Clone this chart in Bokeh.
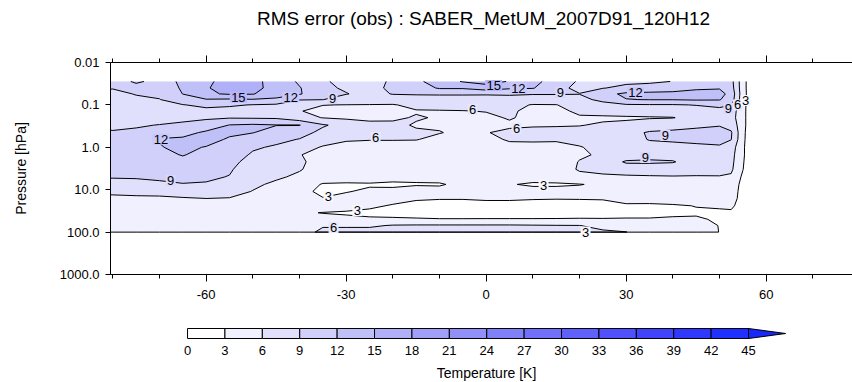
import numpy as np
from bokeh.plotting import figure
from bokeh.models import Range1d, FixedTicker, LinearAxis, ColumnDataSource
from bokeh.layouts import column
from bokeh.embed import file_html
from bokeh.resources import INLINE
from bokeh.core.properties import value

TITLE = "RMS error (obs) : SABER_MetUM_2007D91_120H12"
FONT = "Liberation Sans"

# latitude grid (deg) and pressure levels (hPa)
lat = [-85, -80, -75, -70, -65, -60, -55, -50, -45, -40, -35, -30, -25, -20, -15, -10,
       -5, 0, 5, 10, 15, 20, 25, 30, 35, 40, 45, 50, 52.5, 55, 57.5]
pres = [0.028, 0.04, 0.055, 0.075, 0.1, 0.14, 0.2, 0.3, 0.45, 0.65, 1.0, 1.5, 2.2, 3.3,
        5.0, 7.5, 11.0, 16.0, 24.0, 35.0, 50.0, 70.0, 100.0, 100.5]

# RMS error (K), one row per pressure level, one value per latitude
rms = [
    [10.3, 10.0, 12.6, 10.8, 12.5, 14.5, 16.0, 15.5, 14.3, 11.5, 9.3, 8.3, 8.5, 9.2, 11.3, 13.5, 15.2, 16.2, 14.8, 13.0, 10.5, 8.7, 8.5, 8.5, 8.6, 9.05, 10.5, 10.5, 10.0, 4.2, 0],
    [9.5, 9.2, 10.5, 10.5, 12.3, 14.8, 16.0, 15.8, 14.0, 12.2, 9.5, 8.7, 8.4, 9.4, 10.5, 12.3, 12.3, 13.5, 12.4, 12.2, 9.6, 8.5, 8.9, 9.6, 10.0, 10.5, 11.5, 11.8, 10.3, 4.2, 0],
    [8.3, 8.0, 9.2, 9.6, 12.05, 14.6, 15.3, 15.2, 13.0, 12.3, 9.6, 9.1, 8.3, 9.1, 9.2, 9.2, 9.2, 9.2, 9.3, 9.1, 9.1, 9.05, 11.0, 12.6, 12.8, 12.9, 13.2, 13.0, 11.0, 4.3, 0],
    [7.6, 7.5, 8.3, 8.9, 10.8, 11.8, 11.6, 11.8, 11.6, 9.1, 9.05, 7.8, 7.5, 7.8, 8.0, 8.2, 8.2, 8.1, 8.1, 8.2, 8.2, 8.3, 9.6, 11.9, 12.1, 12.1, 12.3, 12.2, 10.5, 4.2, 0],
    [7.0, 7.0, 7.5, 8.0, 8.9, 9.6, 9.3, 8.9, 8.6, 7.8, 6.05, 5.95, 5.9, 5.8, 6.8, 7.2, 7.2, 7.2, 7.0, 5.8, 5.9, 7.5, 8.2, 8.7, 8.8, 8.8, 9.1, 9.6, 9.1, 4.1, 0],
    [7.0, 7.0, 7.0, 7.5, 7.8, 8.3, 8.2, 8.0, 7.6, 6.1, 5.4, 5.0, 4.8, 5.2, 5.8, 5.8, 5.9, 6.1, 6.4, 5.3, 5.3, 6.5, 7.0, 7.2, 7.3, 7.5, 7.8, 8.2, 7.5, 4.0, 0],
    [7.6, 7.5, 7.3, 7.8, 8.3, 8.6, 8.8, 8.7, 8.6, 7.0, 5.9, 5.5, 5.3, 5.6, 6.2, 5.8, 5.3, 5.5, 6.2, 5.4, 5.6, 5.7, 5.6, 5.7, 5.8, 5.9, 6.9, 8.0, 7.2, 4.0, 0],
    [8.8, 8.5, 8.7, 9.1, 9.5, 10.2, 12.1, 12.4, 12.1, 12.1, 9.3, 8.0, 6.8, 6.5, 5.8, 5.7, 5.3, 5.3, 5.6, 5.8, 5.8, 5.9, 6.3, 6.5, 7.3, 7.8, 8.3, 8.8, 8.0, 4.0, 0],
    [9.6, 9.2, 9.5, 10.5, 11.0, 12.5, 12.8, 12.1, 10.5, 10.0, 8.3, 7.5, 6.8, 6.5, 6.3, 6.1, 5.5, 5.9, 6.5, 6.6, 6.8, 6.8, 7.2, 8.0, 9.3, 9.6, 10.0, 10.2, 9.3, 3.8, 0],
    [10.7, 10.5, 11.0, 12.2, 12.5, 13.5, 11.5, 10.3, 9.6, 8.9, 7.0, 6.2, 6.1, 6.1, 6.1, 5.4, 5.2, 5.5, 6.2, 6.3, 6.2, 6.5, 7.0, 7.5, 9.2, 9.5, 9.8, 10.0, 9.1, 3.7, 0],
    [11.0, 11.0, 11.2, 11.8, 12.8, 11.8, 10.8, 9.3, 8.7, 7.0, 5.8, 5.4, 5.3, 5.3, 5.0, 4.8, 4.8, 5.0, 5.5, 5.4, 5.5, 5.9, 6.5, 7.2, 7.8, 8.0, 8.3, 8.6, 7.5, 3.5, 0],
    [11.0, 11.0, 11.0, 11.0, 12.2, 10.8, 10.2, 8.7, 8.0, 6.1, 5.2, 5.0, 4.9, 4.9, 4.8, 4.6, 4.5, 4.6, 4.8, 4.9, 5.2, 5.7, 6.3, 7.0, 8.0, 7.9, 7.8, 7.9, 7.0, 3.5, 0],
    [10.5, 10.5, 10.5, 10.5, 11.0, 10.3, 9.8, 8.0, 7.5, 6.4, 5.0, 4.8, 4.7, 4.6, 4.5, 4.4, 4.3, 4.3, 4.4, 4.5, 4.8, 6.1, 6.8, 9.4, 9.4, 9.2, 7.6, 7.7, 6.8, 3.3, 0],
    [10.0, 10.0, 10.0, 10.0, 10.3, 9.8, 9.3, 7.5, 7.0, 6.2, 4.8, 4.6, 4.5, 4.4, 4.3, 4.2, 4.1, 4.0, 4.0, 4.2, 4.4, 6.3, 6.8, 7.3, 7.5, 7.5, 7.0, 7.2, 6.5, 3.1, 0],
    [9.2, 9.2, 9.3, 9.4, 9.6, 9.4, 8.9, 7.0, 6.4, 5.5, 4.3, 4.1, 4.0, 3.6, 3.3, 3.6, 3.6, 3.7, 3.5, 3.6, 3.8, 5.2, 5.5, 5.6, 5.7, 5.8, 5.8, 5.8, 5.6, 2.5, 0],
    [7.8, 8.0, 8.0, 8.6, 8.9, 8.8, 8.0, 6.5, 5.5, 4.5, 2.8, 2.7, 2.8, 2.7, 2.9, 2.85, 3.4, 3.5, 3.1, 2.8, 2.8, 2.9, 3.4, 4.3, 4.5, 4.6, 4.8, 4.8, 4.6, 2.2, 0],
    [6.3, 6.5, 6.8, 7.0, 7.3, 7.5, 7.0, 5.9, 5.0, 3.8, 2.4, 2.9, 3.3, 3.4, 3.5, 3.5, 3.6, 3.6, 3.6, 3.5, 3.5, 3.8, 4.0, 4.0, 4.3, 4.4, 4.5, 4.5, 4.4, 2.0, 0],
    [5.5, 5.5, 5.5, 5.5, 5.8, 6.02, 5.9, 5.3, 4.6, 3.6, 3.1, 3.5, 3.8, 3.8, 3.2, 3.1, 3.1, 3.2, 3.2, 3.1, 3.05, 3.05, 3.1, 3.5, 3.7, 3.9, 4.0, 4.0, 4.3, 1.8, 0],
    [5.0, 5.0, 5.0, 5.0, 5.0, 5.0, 5.0, 4.8, 4.3, 3.5, 3.8, 3.7, 3.4, 2.8, 2.5, 2.4, 2.4, 2.5, 2.5, 2.5, 2.6, 2.7, 2.6, 2.8, 2.7, 2.8, 3.05, 3.3, 3.6, 1.5, 0],
    [5.0, 5.0, 4.8, 5.0, 4.8, 4.8, 4.7, 4.6, 4.2, 3.2, 2.95, 2.8, 2.5, 2.3, 2.2, 2.1, 2.1, 2.2, 2.2, 2.2, 2.3, 2.5, 2.4, 2.6, 2.6, 2.7, 2.8, 2.6, 2.5, 1.2, 0],
    [5.0, 5.0, 4.8, 5.0, 4.7, 4.7, 4.6, 4.5, 4.3, 3.3, 3.5, 3.4, 3.3, 3.3, 3.2, 3.1, 3.1, 3.1, 3.1, 3.1, 3.1, 3.1, 3.1, 3.1, 3.1, 3.2, 3.2, 2.8, 2.0, 1.0, 0],
    [5.0, 5.0, 4.8, 5.0, 4.8, 4.8, 4.7, 4.6, 4.5, 4.5, 5.8, 5.8, 5.6, 6.2, 6.3, 6.3, 6.3, 6.3, 6.3, 6.2, 6.1, 6.05, 5.2, 4.8, 4.5, 4.4, 4.3, 2.9, 1.8, 1.0, 0],
    [5.0, 5.0, 5.0, 5.0, 5.0, 5.0, 5.0, 5.0, 5.0, 5.0, 6.5, 6.5, 7.0, 7.5, 7.5, 7.5, 7.5, 7.3, 7.2, 7.0, 6.8, 6.5, 6.4, 6.05, 4.6, 4.5, 4.3, 2.95, 1.8, 1.0, 0],
    [0] * 31,
]

# contour / colour-bar levels (K)
levels = [0, 3, 6, 9, 12, 15, 18, 21, 24, 27, 30, 33, 36, 39, 42, 45]

# colours of the 15 bands plus the ">45" triangle
palette = ["#ffffff", "#f0f0fe", "#e0e0fc", "#d0d0fa", "#c0c0f9", "#b0b0f8", "#a0a0f8",
           "#9090f8", "#8080f9", "#7070fa", "#6060fb", "#5050fc", "#4044fd", "#3038fe",
           "#2030ff", "#1828f8"]

# contour labels (level, latitude, pressure)
lab_text = ["15", "12", "9", "12", "9", "6", "15", "12", "9", "6", "6", "12", "9", "6", "3",
            "9", "9", "3", "3", "6", "3", "3"]
lab_lat = [-53.1, -41.9, -32.9, -69.7, -67.6, -23.7, 1.6, 6.9, 15.9, -2.9, 6.5, 32.0, 51.9,
           53.9, 55.6, 38.4, 34.1, -33.8, -27.6, -32.7, 12.3, 21.3]
lab_p = [0.066, 0.066, 0.071, 0.65, 6.1, 0.59, 0.035, 0.040, 0.051, 0.126, 0.36, 0.051, 0.12,
         0.10, 0.079, 0.53, 1.74, 14.5, 31.0, 78.0, 7.9, 100.0]

# x ticks
x_major = [-60, -30, 0, 30, 60]
x_minor = [-80, -70, -50, -40, -20, -10, 10, 20, 40, 50, 70]
# y ticks (log10 pressure) and labels
y_ticks = [-2, -1, 0, 1, 2, 3]
y_labels = ["0.01", "0.1", "1.0", "10.0", "100.0", "1000.0"]


def blend(c1, c2):
    a = [int(c1[i:i + 2], 16) for i in (1, 3, 5)]
    b = [int(c2[i:i + 2], 16) for i in (1, 3, 5)]
    return "#%02x%02x%02x" % tuple((u + v) // 2 for u, v in zip(a, b))


x = np.array(lat, dtype=float)
y = np.log10(np.array(pres, dtype=float))
z = np.array(rms, dtype=float)

# title strip (frame aligned with the plot frame, px 110..852; y in page pixels)
pt = figure(width=852, height=32, x_range=Range1d(110, 852), y_range=Range1d(32, 0),
            output_backend="svg", toolbar_location=None, min_border=0,
            min_border_left=110, x_axis_location=None, y_axis_location=None)
pt.outline_line_color = None
pt.grid.visible = False
pt.text(x=[483], y=[18], text=[TITLE], text_align="center", text_baseline="middle",
        text_font=value(FONT), text_font_size="19px", text_color="black")

p = figure(width=852, height=273, x_range=Range1d(-80.5, 78.5), y_range=Range1d(3, -2),
           output_backend="svg", toolbar_location=None,
           min_border_left=110, min_border_right=0, min_border_top=30, min_border_bottom=31)
p.outline_line_color = None
p.grid.visible = False
p.background_fill_color = "white"

p.contour(x, y, z, levels=levels, fill_color=palette[:15], line_color=None)
p.contour(x, y, z, levels=levels[1:], line_color="black", line_width=1.0)

# contour labels: a patch of the local fill colour breaks the line behind each label
bg = [blend(palette[int(t) // 3 - 1], palette[int(t) // 3]) for t in lab_text]
bw = [7 * len(t) + 3 for t in lab_text]
src = ColumnDataSource(dict(x=lab_lat, y=list(np.log10(lab_p)), t=lab_text, bg=bg, bw=bw))
p.rect(x="x", y="y", width="bw", height=11, width_units="screen", height_units="screen",
       source=src, fill_color="bg", line_color=None)
p.text(x="x", y="y", text="t", source=src, text_align="center", text_baseline="middle",
       text_font=value(FONT), text_font_size="13px", text_color="black")

# bottom axis
xb = p.below[0]
xb.ticker = FixedTicker(ticks=x_major, minor_ticks=x_minor)
xb.major_label_overrides = {v: str(v) for v in x_major}
xb.major_tick_out = 7
xb.major_tick_in = 0
xb.minor_tick_out = 4
xb.minor_tick_in = 0
xb.major_label_standoff = 8
xb.major_label_text_font = FONT
xb.major_label_text_font_size = "13px"
xb.major_label_text_color = "black"
xb.axis_line_color = "black"

# top axis (ticks only, no labels)
xt = LinearAxis(ticker=FixedTicker(ticks=x_major, minor_ticks=x_minor))
xt.major_label_overrides = {v: "" for v in x_major}
xt.major_tick_out = 7
xt.major_tick_in = 0
xt.minor_tick_out = 4
xt.minor_tick_in = 0
xt.major_label_standoff = 0
p.add_layout(xt, "above")

# left axis
yl = p.left[0]
yl.ticker = FixedTicker(ticks=y_ticks, minor_ticks=[])
yl.major_label_overrides = {t: s for t, s in zip(y_ticks, y_labels)}
yl.major_tick_out = 5
yl.major_tick_in = 0
yl.minor_tick_line_color = None
yl.major_label_standoff = 6
yl.major_label_text_font = FONT
yl.major_label_text_font_size = "13px"
yl.major_label_text_color = "black"
yl.axis_label = "Pressure [hPa]"
yl.axis_label_text_font = FONT
yl.axis_label_text_font_size = "14px"
yl.axis_label_text_font_style = "normal"
yl.axis_label_text_color = "black"
yl.axis_label_standoff = 28

# colour bar (its frame is aligned with the plot frame, px 110..852)
p2 = figure(width=852, height=77, x_range=Range1d(-6.18, 53.34), y_range=Range1d(382, 305),
            output_backend="svg", toolbar_location=None, min_border=0,
            min_border_left=110, x_axis_location=None, y_axis_location=None)
p2.outline_line_color = None
p2.grid.visible = False
p2.quad(left=levels[:-1], right=levels[1:], top=328, bottom=338,
        fill_color=palette[:15], line_color="black", line_width=1)
p2.patch([levels[-1], levels[-1] + 2.97, levels[-1]], [328, 333, 338],
         fill_color=palette[15], line_color="black", line_width=1)
p2.text(x=levels, y=[350] * len(levels), text=[str(v) for v in levels],
        text_align="center", text_baseline="middle", text_font=value(FONT),
        text_font_size="13px", text_color="black")
p2.text(x=[(levels[0] + levels[-1] + 2.97) / 2], y=[372], text=["Temperature [K]"],
        text_align="center", text_baseline="middle", text_font=value(FONT),
        text_font_size="14px", text_color="black")

layout = column(pt, p, p2, spacing=0)
open("out.html", "w").write(file_html(layout, INLINE))
